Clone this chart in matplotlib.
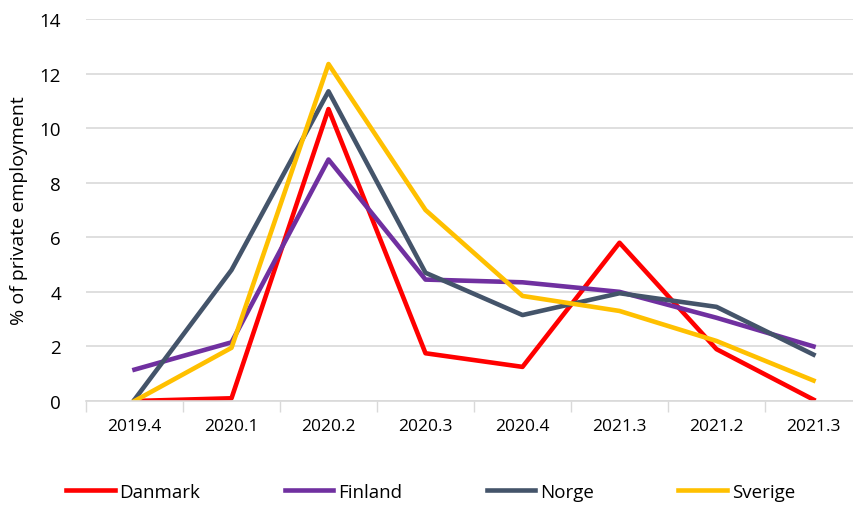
import matplotlib.pyplot as plt
import numpy as np

quarters = ['2019.4', '2020.1', '2020.2', '2020.3', '2020.4', '2021.3', '2021.2', '2021.3']
danmark = [0.0, 0.1, 10.7, 1.75, 1.25, 5.8, 1.9, 0.05]
finland = [1.15, 2.15, 8.85, 4.45, 4.35, 4.0, 3.05, 2.0]
norge = [0.05, 4.8, 11.35, 4.7, 3.15, 3.95, 3.45, 1.7]
sverige = [0.0, 1.95, 12.35, 7.0, 3.85, 3.3, 2.2, 0.75]

plt.rcParams['font.family'] = ['Open Sans', 'DejaVu Sans']

fig = plt.figure(figsize=(8.54, 5.06), dpi=100)
ax = fig.add_axes([86/854, 104/506, 776/854, 382/506])

x = np.arange(len(quarters))
ax.plot(x, danmark, color='#FF0000', lw=3.3, label='Danmark')
ax.plot(x, finland, color='#7030A0', lw=3.3, label='Finland')
ax.plot(x, norge, color='#44546A', lw=3.3, label='Norge')
ax.plot(x, sverige, color='#FFC000', lw=3.3, label='Sverige')

ax.set_xlim(-0.5, len(quarters) - 0.5)
ax.set_ylim(0, 14)
ax.set_yticks(range(0, 15, 2))
ax.set_xticks(x)
ax.set_xticklabels(quarters)
ax.set_xticks(np.arange(-0.5, len(quarters)), minor=True)
ax.tick_params(axis='x', which='major', length=0, pad=12, labelsize=12.5)
ax.tick_params(axis='x', which='minor', length=8, color='#D9D9D9', width=1)
ax.tick_params(axis='y', length=0, pad=18, labelsize=13.5)
ax.grid(axis='y', color='#D9D9D9', lw=1.2)
ax.set_axisbelow(True)
for s in ['top', 'right', 'left']:
    ax.spines[s].set_visible(False)
ax.spines['bottom'].set_color('#D9D9D9')
ax.spines['bottom'].set_linewidth(1.2)

ax.set_ylabel('% of private employment', fontsize=14, labelpad=8)

fig.legend(loc='center left', bbox_to_anchor=(66/854, 1 - 493/506), ncol=4,
           frameon=False, fontsize=13.5, handlelength=2.6, columnspacing=4.5,
           handletextpad=0.25, borderpad=0, borderaxespad=0)

plt.savefig('out.png', dpi=100)
